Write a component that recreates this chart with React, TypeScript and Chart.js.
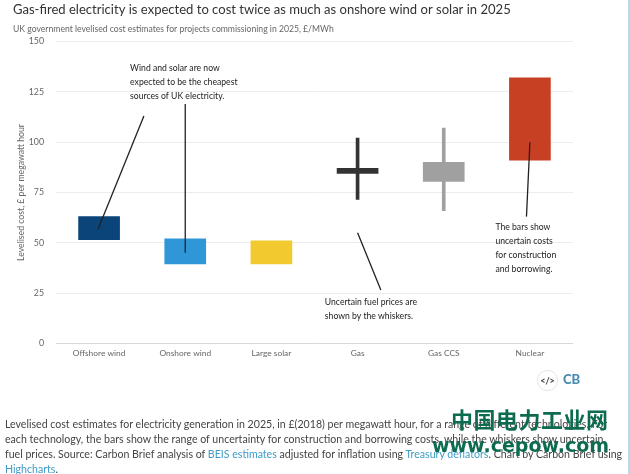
import React, { useEffect, useRef } from "react";
import { Chart, registerables } from "chart.js";

Chart.register(...registerables);

const FONT = "Lato, 'Open Sans', sans-serif";
const categories = ["Offshore wind", "Onshore wind", "Large solar", "Gas", "Gas CCS", "Nuclear"];
const barLow = [51.5, 39.5, 39.5, 84.5, 80.5, 91];
const barHigh = [63, 52, 51, 87, 90, 132];
const whiskerLow = [null, null, null, 71.5, 66, null];
const whiskerHigh = [null, null, null, 102, 107, null];
const barColors = ["#0a4478", "#2f96d8", "#f2ca30", "#333333", "#a0a0a0", "#c84023"];
const whiskerColors = ["#0a4478", "#2f96d8", "#f2ca30", "#333333", "#a0a0a0", "#c84023"];
const yTicks = [0, 25, 50, 75, 100, 125, 150];

const titleText = "Gas-fired electricity is expected to cost twice as much as onshore wind or solar in 2025";
const subtitleText = "UK government levelised cost estimates for projects commissioning in 2025, £/MWh";
const yTitle = "Levelised cost, £ per megawatt hour";

// Annotation leader lines: [category position, value] → [category position, value]
const leaderLines = [
  [0.52, 113, -0.01, 57],
  [1, 119, 1, 45],
  [3, 55, 3.27, 26.5],
  [5, 100, 4.96, 63],
];
// Annotation text: category position, value of the first line, lines
const notes: [number, number, string[]][] = [
  [0.36, 136.5, ["Wind and solar are now", "expected to be the cheapest", "sources of UK electricity."]],
  [2.62, 20.5, ["Uncertain fuel prices are", "shown by the whiskers."]],
  [4.6, 57.5, ["The bars show", "uncertain costs", "for construction", "and borrowing."]],
];

const annotationPlugin = {
  id: "annotations",
  afterDatasetsDraw(chart: any) {
    const { ctx, scales } = chart;
    const px = (c: number) => {
      const a = scales.x.getPixelForValue(0);
      const b = scales.x.getPixelForValue(1);
      return a + (b - a) * c;
    };
    const py = (v: number) => scales.y.getPixelForValue(v);
    ctx.save();
    ctx.strokeStyle = "#222222";
    ctx.lineWidth = 1.3;
    for (const [c1, v1, c2, v2] of leaderLines) {
      ctx.beginPath();
      ctx.moveTo(px(c1), py(v1));
      ctx.lineTo(px(c2), py(v2));
      ctx.stroke();
    }
    ctx.fillStyle = "#222222";
    ctx.font = `8.65px ${FONT}`;
    ctx.textBaseline = "middle";
    ctx.textAlign = "left";
    for (const [c, v, lines] of notes) {
      lines.forEach((line, i) => ctx.fillText(line, px(c), py(v) + i * 14));
    }
    ctx.restore();
  },
};

export default function App() {
  const ref = useRef<HTMLCanvasElement>(null);
  useEffect(() => {
    const chart = new Chart(ref.current!, {
      type: "bar",
      plugins: [annotationPlugin],
      data: {
        labels: categories,
        datasets: [
          {
            label: "Whiskers",
            data: whiskerLow.map((l, i) => (l === null ? null : [l, whiskerHigh[i]])) as any,
            backgroundColor: whiskerColors,
            barThickness: 3,
            grouped: false,
            order: 2,
          } as any,
          {
            label: "Bars",
            data: barLow.map((l, i) => [l, barHigh[i]]) as any,
            backgroundColor: barColors,
            barThickness: 41,
            grouped: false,
            order: 1,
          } as any,
        ],
      },
      options: {
        responsive: false,
        animation: false,
        layout: { padding: { left: 13, right: 57, top: 2, bottom: 110.5 } },
        plugins: {
          legend: { display: false },
          tooltip: { enabled: false },
          title: {
            display: true,
            text: titleText,
            align: "start",
            color: "#333333",
            font: { family: FONT, size: 13.05, weight: "normal" },
            padding: { top: 0, bottom: 6.5 },
          },
          subtitle: {
            display: true,
            text: subtitleText,
            align: "start",
            color: "#666666",
            font: { family: FONT, size: 8.65, weight: "normal" },
            padding: { top: 0, bottom: 7 },
          },
        },
        scales: {
          x: {
            grid: { display: false, drawTicks: false },
            border: { display: false },
            ticks: { color: "#666666", font: { family: FONT, size: 8.4 }, padding: 5, maxRotation: 0 },
          },
          y: {
            min: 0,
            max: 150,
            afterBuildTicks(axis: any) {
              axis.ticks = yTicks.map((value) => ({ value }));
            },
            afterFit(axis: any) {
              axis.width = 43;
            },
            grid: {
              drawTicks: false,
              color: (c: any) => (c.tick && c.tick.value === 0 ? "#d8d8dc" : "#ececec"),
            },
            border: { display: false },
            title: {
              display: true,
              text: yTitle,
              color: "#666666",
              font: { family: FONT, size: 8.7 },
              padding: { top: 3, bottom: 0 },
            },
            ticks: { color: "#666666", font: { family: FONT, size: 8.8 }, padding: 12 },
          },
        },
      },
    } as any);
    return () => chart.destroy();
  }, []);

  return (
    <div style={{ position: "absolute", left: 0, top: 0, width: 630, height: 474, overflow: "hidden", background: "#fff", fontFamily: FONT }}>
      <canvas ref={ref} width={630} height={474} style={{ position: "absolute", left: 0, top: 0 }} />
      <div style={{ position: "absolute", left: 628, top: 0, width: 2, height: 474, background: "#b4dbe8" }} />
      <div style={{ position: "absolute", left: 537, top: 370, width: 19, height: 19, borderRadius: 10, border: "1px solid #e4e4e4", fontSize: 9, fontWeight: 700, textAlign: "center", lineHeight: "19px", color: "#333", boxSizing: "content-box" }}>{"</>"}</div>
      <div style={{ position: "absolute", left: 563, top: 371, fontSize: 13, fontWeight: 900, color: "#4a8cb0", lineHeight: "17px" }}>CB</div>
      <div style={{ position: "absolute", left: 5, top: 417, width: 623, fontSize: 10.6, lineHeight: "15px", color: "#444", whiteSpace: "nowrap" }}>
        Levelised cost estimates for electricity generation in 2025, in £(2018) per megawatt hour, for a range of different technologies. For<br />
        each technology, the bars show the range of uncertainty for construction and borrowing costs, while the whiskers show uncertain<br />
        fuel prices. Source: Carbon Brief analysis of <span style={{ color: "#3d9bc4" }}>BEIS estimates</span> adjusted for inflation using <span style={{ color: "#3d9bc4" }}>Treasury deflators</span>. Chart by Carbon Brief using<br />
        <span style={{ color: "#3d9bc4" }}>Highcharts</span>.
      </div>
      <div style={{ position: "absolute", left: 451, top: 405, fontFamily: "'Noto Sans CJK SC'", fontSize: 22, fontWeight: 700, color: "#0d6b50", lineHeight: "26px", letterSpacing: 0.5, whiteSpace: "nowrap" }}>中国电力工业网</div>
      <div style={{ position: "absolute", left: 432, top: 433, fontFamily: "'DejaVu Sans'", fontSize: 19, fontWeight: 700, color: "#0d6b50", lineHeight: "24px", whiteSpace: "nowrap" }}>www.cepow.com</div>
    </div>
  );
}
